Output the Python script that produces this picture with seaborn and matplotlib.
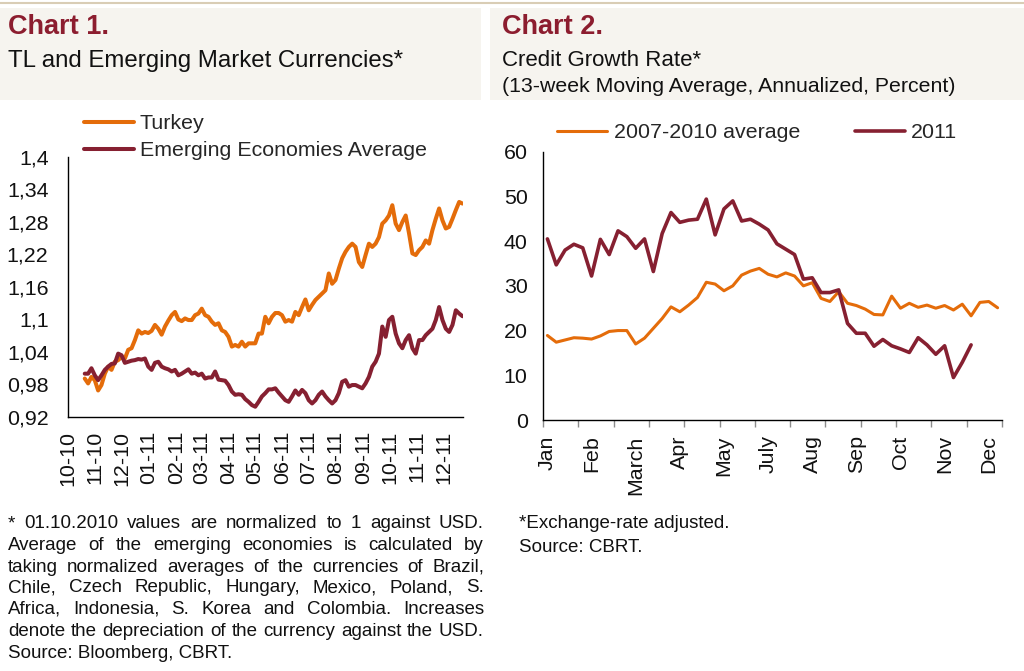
import numpy as np
import pandas as pd
import matplotlib
matplotlib.use("Agg")
import matplotlib.pyplot as plt
from matplotlib.patches import Rectangle
from matplotlib.lines import Line2D
import seaborn as sns

# ---------------- data: Chart 1 ----------------
c1_start = "2010-10-20"          # first observation
c1_step = "91h"                  # spacing of observations
turkey = [0.991, 0.982, 0.994, 0.988, 0.969, 0.979, 1.000, 1.013, 1.007, 1.022,
          1.025, 1.031, 1.028, 1.044, 1.047, 1.062, 1.080, 1.074, 1.077, 1.075,
          1.079, 1.090, 1.083, 1.072, 1.087, 1.098, 1.108, 1.114, 1.100, 1.097,
          1.102, 1.099, 1.099, 1.108, 1.111, 1.120, 1.108, 1.105, 1.096, 1.090,
          1.093, 1.080, 1.077, 1.068, 1.050, 1.053, 1.050, 1.059, 1.050, 1.056,
          1.056, 1.056, 1.074, 1.074, 1.105, 1.093, 1.105, 1.112, 1.112, 1.108,
          1.096, 1.099, 1.096, 1.114, 1.108, 1.123, 1.137, 1.117, 1.127, 1.136,
          1.142, 1.148, 1.154, 1.185, 1.166, 1.173, 1.194, 1.213, 1.225, 1.234,
          1.240, 1.234, 1.206, 1.197, 1.219, 1.240, 1.234, 1.240, 1.252, 1.277,
          1.283, 1.292, 1.311, 1.277, 1.265, 1.280, 1.292, 1.259, 1.222, 1.219,
          1.228, 1.234, 1.246, 1.240, 1.265, 1.286, 1.305, 1.283, 1.268, 1.271,
          1.286, 1.302, 1.317, 1.314]
emerging = [1.000, 1.000, 1.010, 0.997, 0.988, 0.997, 1.007, 1.013, 1.018, 1.019,
            1.037, 1.034, 1.020, 1.022, 1.024, 1.025, 1.027, 1.026, 1.028, 1.013,
            1.007, 1.020, 1.022, 1.013, 1.010, 1.008, 1.004, 1.007, 0.997, 1.000,
            1.004, 1.008, 1.000, 1.002, 0.997, 1.000, 0.991, 0.993, 0.993, 1.004,
            0.989, 0.988, 0.987, 0.979, 0.967, 0.961, 0.962, 0.961, 0.953, 0.948,
            0.942, 0.939, 0.948, 0.958, 0.964, 0.971, 0.971, 0.973, 0.965, 0.958,
            0.951, 0.948, 0.958, 0.969, 0.961, 0.970, 0.964, 0.951, 0.945, 0.951,
            0.961, 0.967, 0.958, 0.951, 0.945, 0.951, 0.964, 0.985, 0.988, 0.976,
            0.979, 0.979, 0.976, 0.973, 0.982, 0.994, 1.013, 1.022, 1.037, 1.087,
            1.068, 1.099, 1.105, 1.074, 1.056, 1.047, 1.062, 1.071, 1.047, 1.037,
            1.062, 1.062, 1.071, 1.077, 1.083, 1.099, 1.123, 1.099, 1.083, 1.077,
            1.090, 1.117, 1.111, 1.106]
c1_series = ["Turkey", "Emerging Economies Average"]
c1_month_labels = ["10-10", "11-10", "12-10", "01-11", "02-11", "03-11", "04-11",
                   "05-11", "06-11", "07-11", "08-11", "09-11", "10-11", "11-11", "12-11"]
c1_xlim = ["2010-10-01", "2011-12-23"]
c1_yticks = [0.92, 0.98, 1.04, 1.10, 1.16, 1.22, 1.28, 1.34, 1.40]
c1_ytick_labels = ["0,92", "0,98", "1,04", "1,1", "1,16", "1,22", "1,28", "1,34", "1,4"]

# ---------------- data: Chart 2 ----------------
avg_0710 = [18.9, 17.4, 17.9, 18.4, 18.3, 18.1, 18.8, 19.8, 20.0, 20.0,
            17.0, 18.3, 20.5, 22.7, 25.3, 24.2, 25.7, 27.4, 30.8, 30.4,
            28.9, 30.0, 32.4, 33.3, 33.9, 32.6, 32.0, 32.9, 32.2, 30.0,
            30.7, 27.2, 26.5, 28.7, 26.1, 25.6, 24.8, 23.6, 23.5, 27.7,
            25.0, 26.1, 25.2, 25.7, 25.0, 25.6, 24.6, 25.9, 23.3, 26.3,
            26.5, 25.1]
credit_2011 = [40.5, 34.7, 38.0, 39.3, 38.5, 32.2, 40.4, 37.0, 42.3, 41.0,
               38.4, 40.5, 33.2, 41.7, 46.4, 44.2, 44.7, 44.9, 49.4, 41.4,
               47.2, 49.0, 44.5, 44.9, 43.8, 42.5, 39.4, 38.2, 37.0, 31.5,
               31.8, 28.5, 28.5, 29.1, 21.6, 19.4, 19.4, 16.5, 18.0, 16.6,
               15.9, 15.1, 18.4, 16.8, 14.7, 16.6, 9.5, 12.9, 16.8]
c2_series = ["2007-2010 average", "2011"]
n_weeks = 52
c2_month_labels = ["Jan", "Feb", "March", "Apr", "May", "July", "Aug", "Sep", "Oct", "Nov", "Dec"]
c2_label_every = 5
c2_tick_every = 4
c2_yticks = [0, 10, 20, 30, 40, 50, 60]

# ---------------- texts ----------------
note1 = ["* 01.10.2010 values are normalized to 1 against USD.",
         "Average of the emerging economies is calculated by",
         "taking normalized averages of the currencies of Brazil,",
         "Chile, Czech Republic, Hungary, Mexico, Poland, S.",
         "Africa, Indonesia, S. Korea and Colombia. Increases",
         "denote the depreciation of the currency against the USD.",
         "Source: Bloomberg, CBRT."]
note2 = ["*Exchange-rate adjusted.", "Source: CBRT."]

# ---------------- style ----------------
ORANGE = "#E46C0A"
MAROON = "#862031"
TITLE_RED = "#8C1D2F"
HEADER_BG = "#F6F4EF"
TICK_GRAY = "#8C8C8C"

sns.set_theme(style="white")
plt.rcParams["font.family"] = ["Liberation Sans", "DejaVu Sans"]
plt.rcParams["axes.edgecolor"] = "black"
plt.rcParams["axes.linewidth"] = 1.0

W, H = 1024, 671
fig = plt.figure(figsize=(W / 100, H / 100), dpi=100)
fig.patch.set_facecolor("white")


def fx(px):
    return px / W


def fy(py):
    return 1 - py / H


# header decoration
fig.add_artist(Line2D([0, 1], [fy(2.5), fy(2.5)], transform=fig.transFigure,
                      color="#D9CDB5", lw=1.5))
fig.add_artist(Rectangle((0, fy(100)), fx(481), 92 / H, transform=fig.transFigure,
                         facecolor=HEADER_BG, edgecolor="none", zorder=0))
fig.add_artist(Rectangle((fx(490), fy(100)), fx(534), 92 / H, transform=fig.transFigure,
                         facecolor=HEADER_BG, edgecolor="none", zorder=0))

fig.text(fx(8), fy(27), "Chart 1.", fontsize=19.5, fontweight="bold", color=TITLE_RED,
         ha="left", va="center")
fig.text(fx(8), fy(61), "TL and Emerging Market Currencies*", fontsize=17.3,
         color="#111111", ha="left", va="center")
fig.text(fx(502), fy(27), "Chart 2.", fontsize=19.5, fontweight="bold", color=TITLE_RED,
         ha="left", va="center")
fig.text(fx(502), fy(61), "Credit Growth Rate*", fontsize=16,
         color="#111111", ha="left", va="center")
fig.text(fx(502), fy(87), "(13-week Moving Average, Annualized, Percent)", fontsize=15.3,
         color="#111111", ha="left", va="center")

# ---------------- Chart 1 ----------------
ax1 = fig.add_axes([fx(68), fy(417), fx(463) - fx(68), (417 - 157) / H])
dates = pd.date_range(c1_start, periods=len(turkey), freq=c1_step)
df1 = pd.DataFrame({"date": dates, c1_series[0]: turkey, c1_series[1]: emerging})
sns.lineplot(data=df1, x="date", y=c1_series[0], ax=ax1, color=ORANGE, lw=2.9)
sns.lineplot(data=df1, x="date", y=c1_series[1], ax=ax1, color=MAROON, lw=2.9)
ax1.set_xlim(pd.Timestamp(c1_xlim[0]), pd.Timestamp(c1_xlim[1]))
ax1.set_ylim(c1_yticks[0], c1_yticks[-1])
ax1.set_yticks(c1_yticks, labels=c1_ytick_labels)
month_starts = pd.date_range(c1_xlim[0], periods=len(c1_month_labels), freq="MS")
ax1.set_xticks(month_starts, labels=c1_month_labels, rotation=90)
ax1.set_xlabel("")
ax1.set_ylabel("")
ax1.tick_params(axis="both", which="major", direction="out", length=5, width=1,
                color=TICK_GRAY, labelsize=15.4, labelcolor="#111111")
ax1.tick_params(axis="y", pad=9)
ax1.tick_params(axis="x", pad=5)
for s in ["top", "right"]:
    ax1.spines[s].set_visible(False)

leg1 = fig.legend(handles=[Line2D([], [], color=ORANGE, lw=2.9),
                           Line2D([], [], color=MAROON, lw=2.9)],
                  labels=c1_series, loc="upper left",
                  bbox_to_anchor=(fx(84), fy(114)), frameon=False, fontsize=15.4,
                  handlelength=2.35, handletextpad=0.25, labelspacing=0.38,
                  borderpad=0, borderaxespad=0)

# ---------------- Chart 2 ----------------
ax2 = fig.add_axes([fx(543), fy(420), fx(1002) - fx(543), (420 - 151.7) / H])
df_avg = pd.DataFrame({"week": np.arange(len(avg_0710)), "value": avg_0710})
df_2011 = pd.DataFrame({"week": np.arange(len(credit_2011)), "value": credit_2011})
sns.lineplot(data=df_avg, x="week", y="value", ax=ax2, color=ORANGE, lw=2.2)
sns.lineplot(data=df_2011, x="week", y="value", ax=ax2, color=MAROON, lw=2.6)
ax2.set_xlim(-0.5, n_weeks - 0.5)
ax2.set_ylim(c2_yticks[0], c2_yticks[-1])
ax2.set_yticks(c2_yticks, labels=[str(v) for v in c2_yticks])
ax2.set_xticks(np.arange(len(c2_month_labels)) * c2_label_every, labels=c2_month_labels,
               rotation=90)
ax2.set_xticks(np.arange(-0.5, n_weeks, c2_tick_every), minor=True)
ax2.set_xlabel("")
ax2.set_ylabel("")
ax2.tick_params(axis="y", direction="out", length=5, width=1, color=TICK_GRAY,
                labelsize=15.4, labelcolor="#111111", pad=6)
ax2.tick_params(axis="x", which="major", length=0, labelsize=15.4,
                labelcolor="#111111", pad=11)
ax2.tick_params(axis="x", which="minor", direction="out", length=5, width=1,
                color=TICK_GRAY, bottom=True)
for s in ["top", "right"]:
    ax2.spines[s].set_visible(False)

leg2 = fig.legend(handles=[Line2D([], [], color=ORANGE, lw=2.2),
                           Line2D([], [], color=MAROON, lw=2.6)],
                  labels=c2_series, loc="upper left", ncol=2,
                  bbox_to_anchor=(fx(557), fy(123)), frameon=False, fontsize=15.4,
                  handlelength=2.35, handletextpad=0.3, columnspacing=2.55,
                  borderpad=0, borderaxespad=0)

# ---------------- footnotes (justified) ----------------
renderer = fig.canvas.get_renderer()


def put_lines(lines, x0, x1, ys, size, justify):
    for line, y, j in zip(lines, ys, justify):
        if not j:
            fig.text(fx(x0), fy(y), line, fontsize=size, ha="left", va="center",
                     color="#111111")
            continue
        words = line.split(" ")
        texts = [fig.text(0, fy(y), w, fontsize=size, ha="left", va="center",
                          color="#111111") for w in words]
        widths = [t.get_window_extent(renderer).width for t in texts]
        gap = (x1 - x0 - sum(widths)) / max(len(words) - 1, 1)
        x = x0
        for t, w in zip(texts, widths):
            t.set_x(fx(x))
            x += w + gap


put_lines(note1, 8, 484, [524, 546, 567, 588, 609, 631, 654], 13.5,
          [True, True, True, True, True, True, False])
put_lines(note2, 519, 1000, [523, 548], 13.5, [False, False])

fig.savefig("out.png", dpi=100)
